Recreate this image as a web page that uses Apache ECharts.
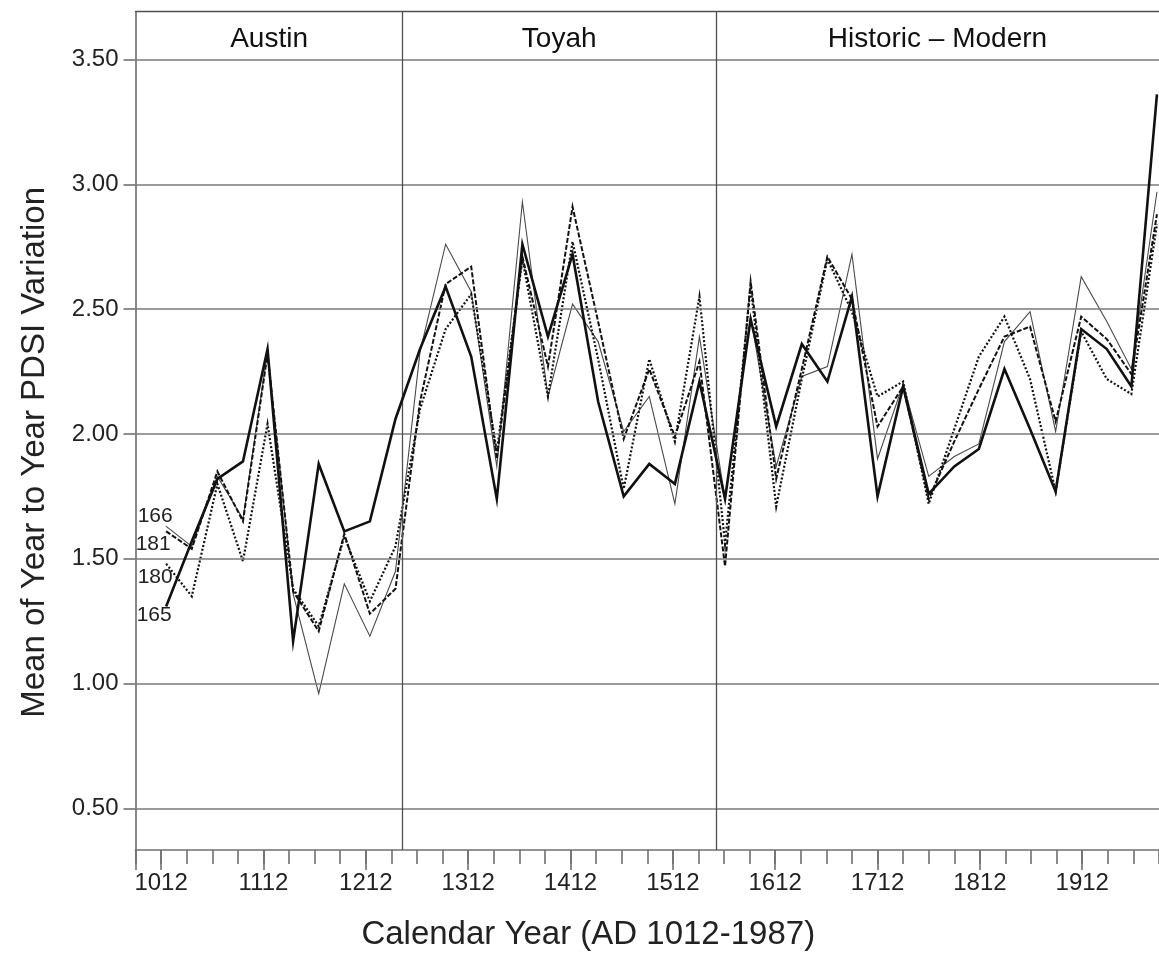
<!DOCTYPE html>
<html>
<head>
<meta charset="utf-8">
<script src="https://cdn.jsdelivr.net/npm/echarts@6/dist/echarts.min.js"></script>
<style>html,body{margin:0;padding:0;background:#fff}#c{width:1159px;height:956px}</style>
</head>
<body>
<div id="c"></div>
<script>
// ---- data ----
const years = [1017,1042,1067,1092,1116,1141,1166,1191,1216,1241,
               1265,1290,1315,1340,1365,1390,1414,1439,1464,1489,
               1514,1538,1563,1588,1613,1638,1663,1687,1712,1737,
               1762,1787,1811,1836,1861,1886,1911,1936,1960,1985];
const s165 = [1.31,1.57,1.82,1.89,2.34,1.17,1.88,1.61,1.65,2.06,
              2.34,2.59,2.31,1.74,2.76,2.39,2.72,2.13,1.75,1.88,
              1.80,2.21,1.74,2.46,2.03,2.36,2.21,2.55,1.75,2.19,
              1.76,1.87,1.94,2.26,2.02,1.77,2.42,2.34,2.19,3.36];
const s166 = [1.63,1.55,1.83,1.66,2.33,1.36,0.96,1.40,1.19,1.45,
              2.33,2.76,2.57,1.87,2.93,2.15,2.52,2.37,2.01,2.15,
              1.72,2.39,1.74,2.47,1.87,2.23,2.27,2.72,1.90,2.20,
              1.83,1.91,1.96,2.37,2.49,2.01,2.63,2.45,2.26,2.97];
const s181 = [1.61,1.54,1.85,1.65,2.32,1.37,1.21,1.60,1.28,1.38,
              2.13,2.60,2.67,1.90,2.71,2.27,2.91,2.45,1.98,2.26,
              1.99,2.29,1.47,2.61,1.82,2.26,2.71,2.54,2.03,2.19,
              1.74,1.97,2.18,2.39,2.43,2.05,2.47,2.38,2.24,2.88];
const s180 = [1.48,1.35,1.80,1.49,2.04,1.38,1.23,1.59,1.33,1.55,
              2.10,2.42,2.56,1.93,2.70,2.15,2.77,2.30,1.78,2.30,
              1.97,2.55,1.56,2.59,1.71,2.22,2.70,2.49,2.15,2.21,
              1.72,2.02,2.31,2.47,2.22,1.77,2.41,2.22,2.16,2.84];
const yTicks = [0.5,1.0,1.5,2.0,2.5,3.0,3.5];
const xMinorTicks = [987,1012,1037,1062,1087,1112,1137,1162,1187,1212,1237,1262,1287,1312,1337,1362,1387,1412,1437,1462,
                     1487,1512,1537,1562,1587,1612,1637,1662,1687,1712,1737,1762,1787,1812,1837,1862,1887,1912,1937,1962,1987];
const xMajorTicks = [987,1012,1112,1212,1312,1412,1512,1612,1712,1812,1912];
const xLabels = [1012,1112,1212,1312,1412,1512,1612,1712,1812,1912];
const periodNames = ['Austin','Toyah','Historic \u2013 Modern'];
const periodBounds = [987,1248,1554,1987];

// ---- chart ----
const FONT = 'Liberation Sans, Arial, Helvetica, sans-serif';
const X_MIN = 987, X_MAX = 1987, Y_MIN = 0.334, Y_MAX = 3.691;
const chart = echarts.init(document.getElementById('c'), null, {renderer:'canvas'});

function lineSeries(name, vals, width, type, color, off, z) {
  return {
    name: name, type: 'line', xAxisIndex: 0, yAxisIndex: 0, z: z,
    symbol: 'none', showSymbol: true, silent: true, animation: false,
    lineStyle: {width: width, type: type, color: color, cap: 'butt', join: 'miter'},
    itemStyle: {color: color},
    data: vals.map(function (v, i) {
      if (i === 0) {
        return {value: [years[i], v], symbol: 'circle', symbolSize: 1,
          label: {show: true, position: 'left', distance: 0, offset: off,
                  formatter: name, fontSize: 21, color: '#222', fontFamily: FONT}};
      }
      return [years[i], v];
    })
  };
}

const areaData = periodNames.map(function (n, i) {
  return [{name: n, xAxis: periodBounds[i], yAxis: 3.5}, {xAxis: periodBounds[i + 1], yAxis: Y_MAX}];
});

const xBase = {type: 'value', min: X_MIN, max: X_MAX, gridIndex: 0, splitLine: {show: false}};

chart.setOption({
  animation: false,
  backgroundColor: '#fff',
  grid: {left: 135.5, right: -3, top: 11.7, bottom: 105.5, containLabel: false},
  xAxis: [
    Object.assign({}, xBase, {
      position: 'bottom',
      axisLine: {show: true, lineStyle: {color: '#707070', width: 1.6}},
      axisTick: {show: true, customValues: xMinorTicks, length: 14, lineStyle: {color: '#707070', width: 1.6}},
      axisLabel: {show: false}
    }),
    Object.assign({}, xBase, {
      position: 'bottom',
      axisLine: {show: false},
      axisTick: {show: true, customValues: xMajorTicks, length: 20, lineStyle: {color: '#707070', width: 1.6}},
      axisLabel: {show: true, customValues: xLabels, margin: 21, fontSize: 24, color: '#222', fontFamily: FONT,
                  formatter: function (v) { return String(v); }},
      name: 'Calendar Year (AD 1012-1987)', nameLocation: 'middle', nameGap: 68,
      nameTextStyle: {fontSize: 33, color: '#222', fontFamily: FONT, padding: [0, 118, 0, 0]}
    }),
    Object.assign({}, xBase, {
      position: 'top',
      axisLine: {show: true, lineStyle: {color: '#505050', width: 1.4}},
      axisTick: {show: false}, axisLabel: {show: false}
    })
  ],
  yAxis: [{
    type: 'value', min: Y_MIN, max: Y_MAX, position: 'left',
    splitLine: {show: false},
    axisLine: {show: true, lineStyle: {color: '#606060', width: 1.5}},
    axisTick: {show: true, customValues: yTicks, length: 12, lineStyle: {color: '#707070', width: 1.6}},
    axisLabel: {show: true, customValues: yTicks, margin: 17, fontSize: 24, color: '#222', fontFamily: FONT,
                formatter: function (v) { return v.toFixed(2); }},
    name: 'Mean of Year to Year PDSI Variation', nameLocation: 'middle', nameGap: 84,
    nameTextStyle: {fontSize: 33, color: '#222', fontFamily: FONT, padding: [0, 43, 0, 0]}
  }],
  series: [
    {
      name: 'frame', type: 'line', data: [], z: 1, silent: true, animation: false,
      markLine: {
        silent: true, symbol: ['none', 'none'], animation: false,
        label: {show: false},
        data: yTicks.map(function (t) { return {yAxis: t, lineStyle: {color: '#7a7a7a', width: 1.6, type: 'solid'}}; })
          .concat(periodBounds.slice(1, 3).map(function (b) { return {xAxis: b, lineStyle: {color: '#505050', width: 1.3, type: 'solid'}}; }))
      },
      markArea: {
        silent: true, animation: false,
        itemStyle: {color: 'rgba(0,0,0,0)'},
        label: {show: true, position: 'inside', offset: [0, 4], fontSize: 28, color: '#111', fontFamily: FONT},
        data: areaData
      }
    },
    lineSeries('166', s166, 1.1, 'solid', '#4a4a4a', [7, -10], 3),
    lineSeries('181', s181, 2.0, [5, 2], '#111', [5, 13], 4),
    lineSeries('180', s180, 2.2, [2, 2], '#111', [7, 13], 4),
    lineSeries('165', s165, 2.6, 'solid', '#111', [6, 9], 5)
  ]
});
</script>
</body>
</html>
